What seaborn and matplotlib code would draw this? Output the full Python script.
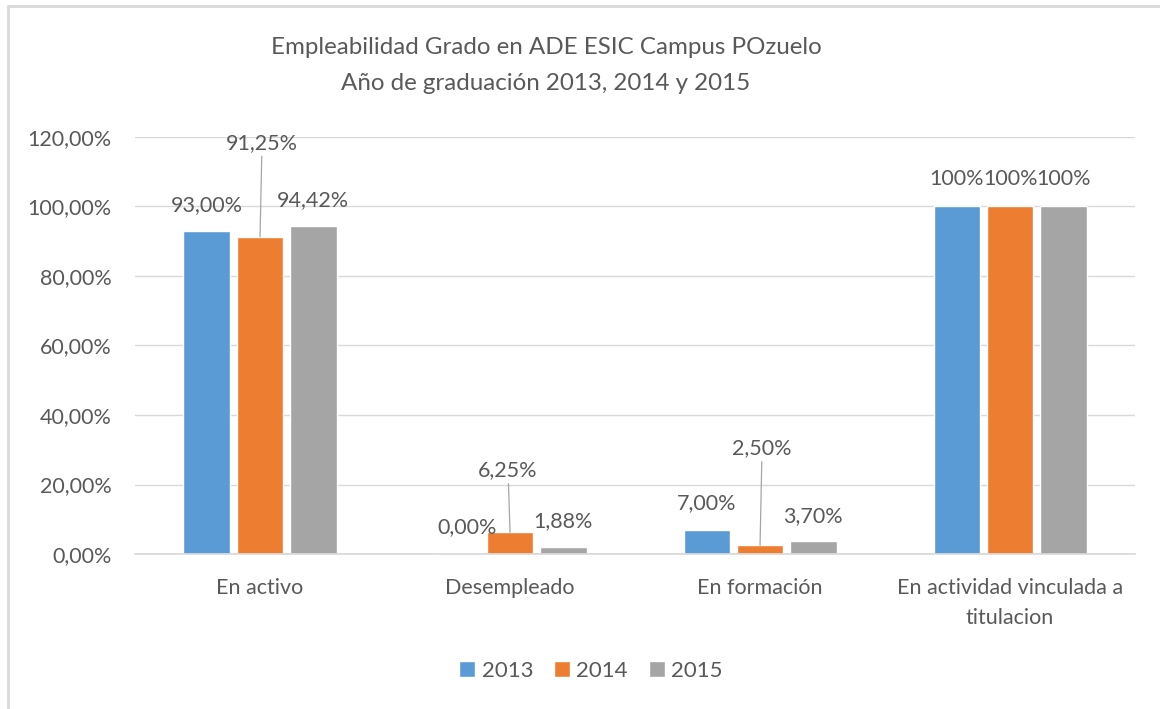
import pandas as pd
import numpy as np
import matplotlib.pyplot as plt
import seaborn as sns
from matplotlib.lines import Line2D
from matplotlib.ticker import FuncFormatter

# Data
categorias = ["En activo", "Desempleado", "En formación", "En actividad vinculada a\ntitulacion"]
anios = ["2013", "2014", "2015"]
valores_2013 = [93.00, 0.00, 7.00, 100.0]
valores_2014 = [91.25, 6.25, 2.50, 100.0]
valores_2015 = [94.42, 1.88, 3.70, 100.0]
decimales = [2, 2, 2, 0]  # last group is labelled "100%"

df = pd.DataFrame({
    "categoria": categorias * 3,
    "anio": np.repeat(anios, len(categorias)),
    "valor": valores_2013 + valores_2014 + valores_2015,
})

# label offsets (pixels from bar top centre), per year
offsets = {
    "2013": [(0, 26), (10, 27), (0, 27), (0, 27)],
    "2014": [(2, 94), (-2, 62), (2, 97), (0, 27)],
    "2015": [(0, 26), (0, 26), (0, 25), (0, 27)],
}

colores = ["#5B9BD5", "#ED7D31", "#A5A5A5"]
gris_texto = "#595959"
fs = 15.5

sns.set_theme(style="white")
plt.rcParams["font.family"] = ["Lato", "DejaVu Sans"]

fig = plt.figure(figsize=(11.6, 7.09), dpi=100)
ax = fig.add_axes([0.1164, 0.2186, 0.8621, 0.5882])

sns.barplot(data=df, x="categoria", y="valor", hue="anio", palette=colores,
            width=0.64, gap=0.13, saturation=1, ax=ax, legend=True)

ax.set_ylim(0, 120)
ax.set_yticks(np.arange(0, 121, 20))
ax.yaxis.set_major_formatter(FuncFormatter(lambda v, p: f"{v:.2f}".replace(".", ",") + "%"))
ax.grid(axis="y", color="#D9D9D9", lw=1)
ax.set_axisbelow(True)
for s in ["top", "right", "left"]:
    ax.spines[s].set_visible(False)
ax.spines["bottom"].set_color("#D9D9D9")
ax.tick_params(axis="both", length=0, labelsize=fs, colors=gris_texto)
ax.tick_params(axis="x", pad=17)
ax.tick_params(axis="y", pad=17)
for t in ax.get_xticklabels():
    t.set_linespacing(1.65)
ax.set_xlabel("")
ax.set_ylabel("")
ax.set_xlim(-0.5, 3.5)

# data labels
series = {"2013": valores_2013, "2014": valores_2014, "2015": valores_2015}
for anio, cont in zip(anios, ax.containers):
    for i, barra in enumerate(cont):
        v = series[anio][i]
        txt = f"{v:.{decimales[i]}f}".replace(".", ",") + "%"
        dx, dy = offsets[anio][i]
        x = barra.get_x() + barra.get_width() / 2
        props = None
        if dy > 40:
            props = dict(arrowstyle="-", color="#A6A6A6", lw=0.9, shrinkA=0, shrinkB=0)
        ax.annotate(txt, xy=(x, v), xytext=(dx, dy), textcoords="offset pixels",
                    ha="center", va="center", fontsize=fs, color=gris_texto,
                    arrowprops=props)

# legend
h, l = ax.get_legend_handles_labels()
ax.legend_.remove()
fig.legend(h, l, loc="center", bbox_to_anchor=(591 / 1160, 1 - 671 / 709), ncol=3,
           frameon=False, fontsize=16, handlelength=0.7, handleheight=0.7,
           handletextpad=0.3, columnspacing=0.95, labelcolor=gris_texto)

# title
fig.text(546 / 1160, 1 - 47 / 709, "Empleabilidad Grado en ADE ESIC Campus POzuelo",
         ha="center", va="center", fontsize=17.4, color=gris_texto)
fig.text(546 / 1160, 1 - 84 / 709, "Año de graduación 2013, 2014 y 2015",
         ha="center", va="center", fontsize=17.4, color=gris_texto)

# chart area border (top and left visible)
fig.add_artist(Line2D([8 / 1160, 8 / 1160], [0, 1 - 6 / 709], color="#D9D9D9", lw=2))
fig.add_artist(Line2D([8 / 1160, 1], [1 - 6 / 709, 1 - 6 / 709], color="#D9D9D9", lw=2))

fig.savefig("out.png", dpi=100)
